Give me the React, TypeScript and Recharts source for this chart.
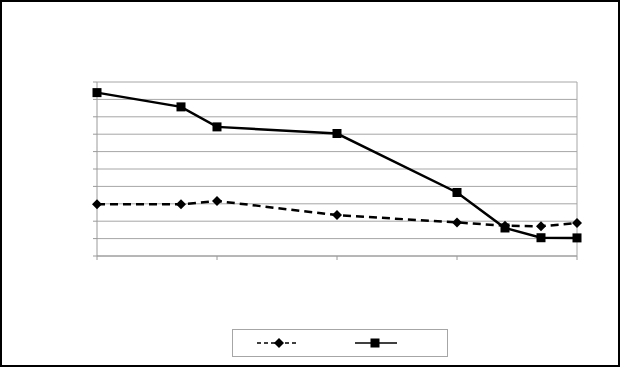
import React from 'react';
import { LineChart, Line, XAxis, YAxis, CartesianGrid, Legend, ReferenceLine } from 'recharts';

const xValues = [0, 0.7, 1, 2, 3, 3.4, 3.7, 4];
const dashedSeries = [29.8, 29.7, 31.6, 23.5, 19.3, 17.4, 17.1, 18.9];
const solidSeries = [93.9, 85.7, 74.2, 70.4, 36.5, 16.1, 10.5, 10.4];
const xTicks = [0, 1, 2, 3, 4];
const yTicks = [0, 10, 20, 30, 40, 50, 60, 70, 80, 90, 100];

const chartData = xValues.map((x, i) => ({
  x,
  dashed: dashedSeries[i],
  solid: solidSeries[i],
}));

const GRID = '#a6a6a6';
const AXIS = '#9a9a9a';

const Diamond = (props: any) => {
  const { cx, cy } = props;
  if (cx == null || cy == null) return null;
  return <polygon points={`${cx},${cy - 5} ${cx + 5},${cy} ${cx},${cy + 5} ${cx - 5},${cy}`} fill="#000" />;
};

const Square = (props: any) => {
  const { cx, cy } = props;
  if (cx == null || cy == null) return null;
  return <rect x={cx - 4.5} y={cy - 4.5} width={9} height={9} fill="#000" />;
};

const NoLabel = () => <g />;

const LegendBox = () => (
  <svg width={216} height={28} style={{ display: 'block' }}>
    <rect x={0.5} y={0.5} width={215} height={27} fill="#fff" stroke={GRID} />
    <line x1={25} y1={14} x2={65} y2={14} stroke="#000" strokeWidth={1.5} strokeDasharray="4 3" />
    <Diamond cx={47} cy={14} />
    <line x1={123} y1={14} x2={165} y2={14} stroke="#000" strokeWidth={1.5} />
    <Square cx={143} cy={14} />
  </svg>
);

export default function App() {
  return (
    <div style={{ position: 'absolute', left: 0, top: 0, width: 620, height: 367, background: '#fff' }}>
      <LineChart width={620} height={367} data={chartData} margin={{ top: 82, right: 43, left: 92, bottom: 106 }}>
        <CartesianGrid vertical={false} stroke={GRID} />
        <XAxis
          dataKey="x"
          type="number"
          domain={[0, 4]}
          ticks={xTicks}
          interval={0}
          tick={NoLabel}
          tickSize={4}
          height={5}
          axisLine={{ stroke: AXIS }}
          tickLine={{ stroke: AXIS }}
        />
        <YAxis
          type="number"
          domain={[0, 100]}
          ticks={yTicks}
          interval={0}
          tick={NoLabel}
          tickSize={4}
          width={5}
          axisLine={{ stroke: AXIS }}
          tickLine={{ stroke: AXIS }}
        />
        <ReferenceLine x={4} stroke={GRID} />
        <Legend
          layout="horizontal"
          verticalAlign="middle"
          align="center"
          wrapperStyle={{ position: 'absolute', left: 232, top: 329, width: 216, height: 28 }}
          content={() => <LegendBox />}
        />
        <Line
          type="linear"
          dataKey="dashed"
          name="Series 1"
          stroke="#000"
          strokeWidth={2.5}
          strokeDasharray="8 5"
          dot={<Diamond />}
          isAnimationActive={false}
        />
        <Line
          type="linear"
          dataKey="solid"
          name="Series 2"
          stroke="#000"
          strokeWidth={2.5}
          dot={<Square />}
          isAnimationActive={false}
        />
      </LineChart>
      <div
        style={{
          position: 'absolute',
          left: 0,
          top: 0,
          width: 620,
          height: 367,
          border: '2px solid #000',
          boxSizing: 'border-box',
          pointerEvents: 'none',
        }}
      />
    </div>
  );
}
